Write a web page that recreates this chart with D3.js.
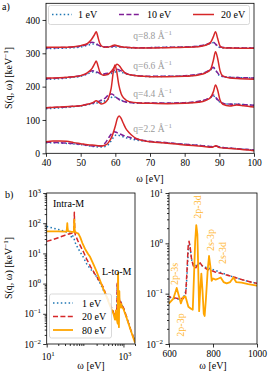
<!DOCTYPE html>
<html><head><meta charset="utf-8">
<script src="https://cdn.jsdelivr.net/npm/d3@7"></script>
<style>body{margin:0;background:#fff}svg{display:block}text{font-family:"Liberation Serif","Times New Roman",serif;fill:#000}</style>
</head><body>
<script>
// ---------------- data: panel a) ----------------
const topXTicks = [40,50,60,70,80,90,100];
const topYTicks = [0,100,200,300,400];
const qNames = ["q=8.8 Å","q=6.6 Å","q=4.4 Å","q=2.2 Å"];
const qLabelAt = [[65.2,343],[65.2,253],[65.2,169],[65.2,64]];

const q88_1eV = [[40,314],[44,315],[48,317],[50,319],[52,324],[53.5,328],[55,325],[57,318],[59,319],[61,319],[63,317],[66,316],[70,317],[75,318],[80,319],[84,321],[86,325],[87.5,330],[88.3,332],[89,326],[90,318],[92,316],[96,316],[100,316]];
const q88_10eV = [[40,316],[44,317],[48,319],[50,321],[52,327],[53.2,333],[54,332],[55,325],[56.5,319],[59,320],[60,322],[62,319],[66,317],[70,317],[75,318],[80,319],[84,322],[86,326],[87.5,331],[88.3,333],[89,327],[90,319],[92,317],[96,316],[100,316]];
const q88_20eV = [[40,318],[44,318],[48,320],[50,323],[52,330],[53,340],[54,356],[54.5,365],[55,348],[55.5,330],[56.3,320],[57.5,318],[59,322],[59.8,325],[61,321],[63,318],[66,316],[70,316],[75,317],[80,318],[84,320],[86,324],[87.5,333],[88.3,350],[88.9,365],[89.5,345],[90.2,322],[91,317],[93,316],[100,315]];

const q66_1eV = [[40,222],[44,224],[48,228],[50,231],[52,238],[53.5,244],[55,241],[57,236],[58.5,238],[60,244],[61,246],[62,242],[64,236],[67,232],[70,230],[75,231],[80,232],[84,236],[86,242],[87.5,250],[88.3,256],[89,247],[90,234],[92,229],[96,227],[100,226]];
const q66_10eV = [[40,224],[44,226],[48,230],[50,233],[52,240],[53.3,248],[54.5,245],[56,238],[58,240],[59.5,248],[60.5,252],[61.5,248],[63,240],[66,233],[70,231],[75,231],[80,233],[84,237],[86,243],[87.5,252],[88.3,258],[89,249],[90,235],[92,229],[96,227],[100,226]];
const q66_20eV = [[40,226],[44,227],[48,230],[50,233],[52,242],[53.3,255],[54,268],[54.5,277],[55,262],[55.6,242],[56.5,234],[58,238],[59,248],[60,262],[60.5,267],[61.2,262],[62,250],[63,240],[65,234],[68,231],[70,230],[75,230],[80,231],[84,235],[86,241],[87.5,252],[88.3,280],[88.9,305],[89.5,285],[90.2,248],[91,232],[93,226],[96,224],[100,222]];

const q44_1eV = [[40,134],[44,136],[48,140],[50,142],[52,146],[54,150],[56,153],[57.5,160],[58.5,166],[59.5,170],[60.5,166],[62,158],[64,153],[67,150],[70,150],[75,150],[80,151],[84,155],[86,160],[87.5,167],[88.3,172],[89,165],[90,155],[92,148],[95,148],[97,146],[100,145]];
const q44_10eV = [[40,137],[44,138],[48,141],[50,143],[52,147],[54,152],[55.5,157],[57,165],[58.3,177],[59,178],[60,170],[61,162],[63,154],[66,151],[70,151],[75,151],[80,152],[84,156],[86,161],[87.5,168],[88.3,175],[89,167],[90,156],[92,148],[95,147],[100,144]];
const q44_20eV = [[40,137],[44,139],[48,141],[50,143],[52,147],[53.5,152],[54.5,158],[55.2,153],[56,148],[57,152],[58,165],[58.8,195],[59.5,250],[59.9,265],[60.4,245],[61,205],[61.7,178],[62.5,165],[64,155],[67,151],[70,150],[75,149],[80,150],[84,153],[86,158],[87.5,168],[88.3,185],[88.9,205],[89.5,190],[90.2,160],[91,147],[93,142],[95,145],[97,143],[100,139]];

const q22_1eV = [[40,32],[44,31],[48,28],[50,26],[52,23],[54,20],[56,19],[57.5,22],[58.5,33],[59.5,48],[60.3,55],[61.5,52],[63,47],[65,42],[68,37],[70,35],[75,31],[80,27],[85,23],[88,20],[89,21],[90,19],[95,14],[100,10]];
const q22_10eV = [[40,33],[44,32],[48,29],[50,27],[52,24],[54,22],[56,22],[57,30],[58,45],[59,60],[59.7,65],[60.5,62],[62,55],[64,48],[66,43],[70,36],[75,32],[80,27],[85,23],[88,20],[89,22],[90,19],[95,14],[100,10]];
const q22_20eV = [[40,35],[42,37],[44,37],[46,36],[48,32],[50,29],[52,26],[54,24],[55,23],[56,22],[57,24],[58,32],[59,50],[60,82],[60.6,105],[61.1,112],[61.6,106],[62.3,90],[63,75],[64,62],[65,52],[66,45],[68,38],[70,35],[75,30],[80,25],[85,21],[88,18],[89,23],[90,17],[95,13],[100,8]];

const topSeriesNames = ["1 eV","10 eV","20 eV"];

// ---------------- data: panel b) ----------------
const bLogExpY = [-2,-1,0,1,2,3];
const bRightExpY = [-2,-1,0,1];
const bLeftXExp = [1,3];
const bRightXTicks = [600,800,1000];
const bSeriesNames = ["1 eV","20 eV","80 eV"];
const transitions = ["2p-3s","2p-3d","2s-3p","2s-3d","2p-3p"];

const b_1eV = [[10,78],[15,68],[20,62],[25,57],[30,53],[36,50],[40,47],[43,38],[45,32],[48,38],[52,30],[56,22],[65,15],[75,11],[90,7.5],[110,4.5],[140,3],[180,2.1],[250,1.0],[350,0.4],[450,0.2],[550,0.11],[600,0.085],[640,0.078],[665,0.08],[678,0.12],[684,0.35],[689,0.9],[693,1.0],[698,0.7],[704,0.45],[712,0.37],[722,0.36],[735,0.4],[750,0.36],[770,0.33],[790,0.31],[810,0.29],[840,0.26],[870,0.23],[900,0.21],[950,0.18],[1000,0.16],[1200,0.08],[1500,0.033],[2000,0.012]];
const b_20eV = [[10,25],[15,29],[20,33],[30,40],[40,45],[48,48],[51,55],[52,120],[52.5,230],[53,120],[54,50],[56,40],[65,26],[75,18],[90,11.5],[110,6.5],[140,3.6],[180,2.1],[250,1.1],[300,0.75],[350,0.42],[450,0.2],[550,0.11],[600,0.087],[640,0.08],[665,0.08],[676,0.1],[682,0.3],[687,0.85],[691,1.1],[696,0.85],[702,0.5],[710,0.36],[720,0.32],[732,0.38],[740,0.42],[750,0.36],[770,0.31],[790,0.29],[810,0.27],[840,0.25],[870,0.23],[900,0.21],[950,0.18],[1000,0.16],[1200,0.08],[1500,0.033],[2000,0.012]];
const b_80eV = [[10,54],[20,54],[30,53],[33,54],[33.8,75],[34.4,100],[35,72],[36,55],[45,52],[51,52],[51.8,90],[52.4,130],[53,90],[54,52],[60,48],[67,45],[75,34],[85,22],[100,14],[120,9.5],[135,7.7],[170,4],[200,2.5],[250,1.2],[300,0.65],[370,0.35],[450,0.18],[550,0.1],[600,0.064],[620,0.08],[635,0.13],[645,0.09],[654,0.064],[664,0.085],[675,0.088],[688,0.055],[700,0.05],[708,0.048],[714,0.25],[719,1.1],[724,2.3],[729,1.5],[733,0.3],[737,0.045],[742,0.12],[747,0.25],[752,0.12],[758,0.04],[762,0.036],[768,0.08],[776,0.3],[782,0.56],[788,0.35],[794,0.18],[800,0.2],[812,0.19],[825,0.2],[835,0.21],[848,0.17],[862,0.16],[878,0.17],[893,0.21],[905,0.17],[930,0.165],[960,0.155],[1000,0.145],[1200,0.075],[1500,0.032],[2000,0.011]];

// ---------------- drawing ----------------
const svg = d3.select("body").append("svg").attr("width",270).attr("height",374);
const FS = 9.5;
const BLUE="#1f77b4", PURPLE="#7f1f96", RED="#d62728", ORANGE="#ffa500";

const xA = d3.scaleLinear([40,100],[46,254]);
const yA = d3.scaleLinear([0,450],[153.3,3.3]);
const xL = d3.scaleLog([10,2000],[46.7,135]);
const yL = d3.scaleLog([0.01,1000],[344,193]);
const xR = d3.scaleLinear([600,1000],[169,257]);
const yR = d3.scaleLog([0.01,10],[344,193]);

function clip(id,x,y){
  svg.append("clipPath").attr("id",id).append("rect")
    .attr("x",x.range()[0]).attr("y",y.range()[1])
    .attr("width",x.range()[1]-x.range()[0]).attr("height",y.range()[0]-y.range()[1]);
}
clip("ca",xA,yA); clip("cl",xL,yL); clip("cr",xR,yR);

function frame(x,y){
  svg.append("rect").attr("x",x.range()[0]).attr("y",y.range()[1])
    .attr("width",x.range()[1]-x.range()[0]).attr("height",y.range()[0]-y.range()[1])
    .attr("fill","none").attr("stroke","#000").attr("stroke-width",0.8);
}
function styleAxis(g){ g.select(".domain").remove(); g.selectAll("line").attr("stroke","#000").attr("stroke-width",0.8); g.attr("font-family",null).attr("font-size",FS); }

function supText(g,x,y,base,exp,anchor,fs){
  const t=g.append("text").attr("x",x).attr("y",y).attr("text-anchor",anchor).attr("font-size",fs);
  t.append("tspan").text(base);
  t.append("tspan").attr("dy",-4).attr("font-size",fs*0.72).text(exp);
  return t;
}
const mexp = e => (e<0?"\u2212":"")+Math.abs(e);

function draw(data,x,y,color,dash,w,clipId,curve){
  const line=d3.line().x(d=>x(d[0])).y(d=>y(d[1])).curve(curve||d3.curveLinear);
  svg.append("path").datum(data).attr("d",line).attr("fill","none")
    .attr("stroke",color).attr("stroke-width",w).attr("stroke-dasharray",dash)
    .attr("stroke-linejoin","round").attr("clip-path",`url(#${clipId})`);
}

// ---- panel a
const topGroups=[[q88_1eV,q88_10eV,q88_20eV],[q66_1eV,q66_10eV,q66_20eV],[q44_1eV,q44_10eV,q44_20eV],[q22_1eV,q22_10eV,q22_20eV]];
const topStyles=[[BLUE,"1.5,2.4"],[PURPLE,"5,2.4"],[RED,null]];
topGroups.forEach(gr=>gr.forEach((s,i)=>draw(s,xA,yA,topStyles[i][0],topStyles[i][1],1.5,"ca",d3.curveMonotoneX)));
qNames.forEach((n,i)=>{
  const t=svg.append("text").attr("x",xA(qLabelAt[i][0])).attr("y",yA(qLabelAt[i][1])).attr("font-size",FS).style("fill","#9a9a9a");
  t.append("tspan").text(n); t.append("tspan").attr("dy",-4).attr("font-size",FS*0.72).text("\u22121");
});
frame(xA,yA);
let g=svg.append("g").attr("transform","translate(0,153.3)").call(d3.axisBottom(xA).tickValues(topXTicks).tickSize(3.5).tickPadding(2.5)); styleAxis(g);
g=svg.append("g").attr("transform","translate(46,0)").call(d3.axisLeft(yA).tickValues(topYTicks).tickSize(3.5).tickPadding(2.5)); styleAxis(g);
svg.append("text").attr("x",150).attr("y",182).attr("text-anchor","middle").attr("font-size",10).text("\u03c9 [eV]");
function ylab(x,y){
  const t=svg.append("text").attr("transform",`translate(${x},${y}) rotate(-90)`).attr("text-anchor","middle").attr("font-size",10);
  t.append("tspan").text("S(q, \u03c9) [keV");
  t.append("tspan").attr("dy",-4).attr("font-size",7).text("\u22121");
  t.append("tspan").attr("dy",4).text("]");
}
ylab(12,78);
svg.append("text").attr("x",2).attr("y",10).attr("font-size",10).text("a)");

// legend a
const lg=svg.append("g");
lg.append("rect").attr("x",48.5).attr("y",5.5).attr("width",201).attr("height",19).attr("rx",2)
  .attr("fill","#fff").attr("fill-opacity",0.85).attr("stroke","#cfcfcf").attr("stroke-width",0.8);
const legX=[[52,72,78],[119,139,147],[193,214,221]];
topSeriesNames.forEach((n,i)=>{
  lg.append("line").attr("x1",legX[i][0]).attr("x2",legX[i][1]).attr("y1",14.5).attr("y2",14.5)
    .attr("stroke",topStyles[i][0]).attr("stroke-width",1.5).attr("stroke-dasharray",topStyles[i][1]);
  lg.append("text").attr("x",legX[i][2]).attr("y",18).attr("font-size",10).text(n);
});

// ---- panel b left
const bStyles=[[BLUE,"1.5,2.4",1.5],[RED,"5,2.4",1.5],[ORANGE,null,1.8]];
[b_1eV,b_20eV,b_80eV].forEach((s,i)=>draw(s,xL,yL,bStyles[i][0],bStyles[i][1],bStyles[i][2],"cl"));
frame(xL,yL);
function minors(lo,hi){const m=[];for(let e=lo;e<hi;e++)for(let k=2;k<=9;k++)m.push(k*Math.pow(10,e));return m;}
g=svg.append("g").attr("transform","translate(46.7,0)").call(d3.axisLeft(yL).tickValues(bLogExpY.map(e=>Math.pow(10,e))).tickSize(3.5).tickFormat("")); styleAxis(g);
g=svg.append("g").attr("transform","translate(46.7,0)").call(d3.axisLeft(yL).tickValues(minors(-2,3)).tickSize(2).tickFormat("")); styleAxis(g);
bLogExpY.forEach(e=>supText(svg,41,yL(Math.pow(10,e))+3.5,"10",mexp(e),"end",FS));
g=svg.append("g").attr("transform","translate(0,344)").call(d3.axisBottom(xL).tickValues(bLeftXExp.map(e=>Math.pow(10,e))).tickSize(3.5).tickFormat("")); styleAxis(g);
g=svg.append("g").attr("transform","translate(0,344)").call(d3.axisBottom(xL).tickValues(minors(1,4).filter(v=>v<=2000)).tickSize(2).tickFormat("")); styleAxis(g);
bLeftXExp.forEach(e=>supText(svg,xL(Math.pow(10,e))+1.5,360,"10",mexp(e),"middle",FS));
svg.append("text").attr("x",91).attr("y",369).attr("text-anchor","middle").attr("font-size",10).text("\u03c9 [eV]");
ylab(12,268);
svg.append("text").attr("x",5).attr("y",198).attr("font-size",10).text("b)");
svg.append("text").attr("x",53).attr("y",207).attr("font-size",10).text("Intra-M");
svg.append("text").attr("x",102).attr("y",275).attr("font-size",10).text("L-to-M");

// legend b
const lb=svg.append("g");
lb.append("rect").attr("x",49.5).attr("y",294).attr("width",62).attr("height",44).attr("rx",2)
  .attr("fill","#fff").attr("fill-opacity",0.85).attr("stroke","#cfcfcf").attr("stroke-width",0.8);
bSeriesNames.forEach((n,i)=>{
  const yy=303+i*13.5;
  lb.append("line").attr("x1",53).attr("x2",73).attr("y1",yy).attr("y2",yy)
    .attr("stroke",bStyles[i][0]).attr("stroke-width",bStyles[i][2]).attr("stroke-dasharray",bStyles[i][1]);
  lb.append("text").attr("x",82).attr("y",yy+3.5).attr("font-size",10).text(n);
});

// ---- panel b right
[b_1eV,b_20eV,b_80eV].forEach((s,i)=>draw(s,xR,yR,bStyles[i][0],bStyles[i][1],bStyles[i][2],"cr"));
frame(xR,yR);
g=svg.append("g").attr("transform","translate(169,0)").call(d3.axisLeft(yR).tickValues(bRightExpY.map(e=>Math.pow(10,e))).tickSize(3.5).tickFormat("")); styleAxis(g);
g=svg.append("g").attr("transform","translate(169,0)").call(d3.axisLeft(yR).tickValues(minors(-2,1)).tickSize(2).tickFormat("")); styleAxis(g);
bRightExpY.forEach(e=>supText(svg,163,yR(Math.pow(10,e))+3.5,"10",mexp(e),"end",FS));
g=svg.append("g").attr("transform","translate(0,344)").call(d3.axisBottom(xR).tickValues(bRightXTicks).tickFormat(d3.format("d")).tickSize(3.5).tickPadding(2.5)); styleAxis(g);
svg.append("text").attr("x",213).attr("y",369).attr("text-anchor","middle").attr("font-size",10).text("\u03c9 [eV]");
const transAt=[[627,274],[730,207],[790,240],[843,253],[650,325]];
transitions.forEach((n,i)=>{
  svg.append("text").attr("transform",`translate(${xR(transAt[i][0])+3.5},${transAt[i][1]}) rotate(-90)`)
    .attr("text-anchor","middle").attr("font-size",10).style("fill","#ffb733").text(n);
});
</script>
</body></html>
